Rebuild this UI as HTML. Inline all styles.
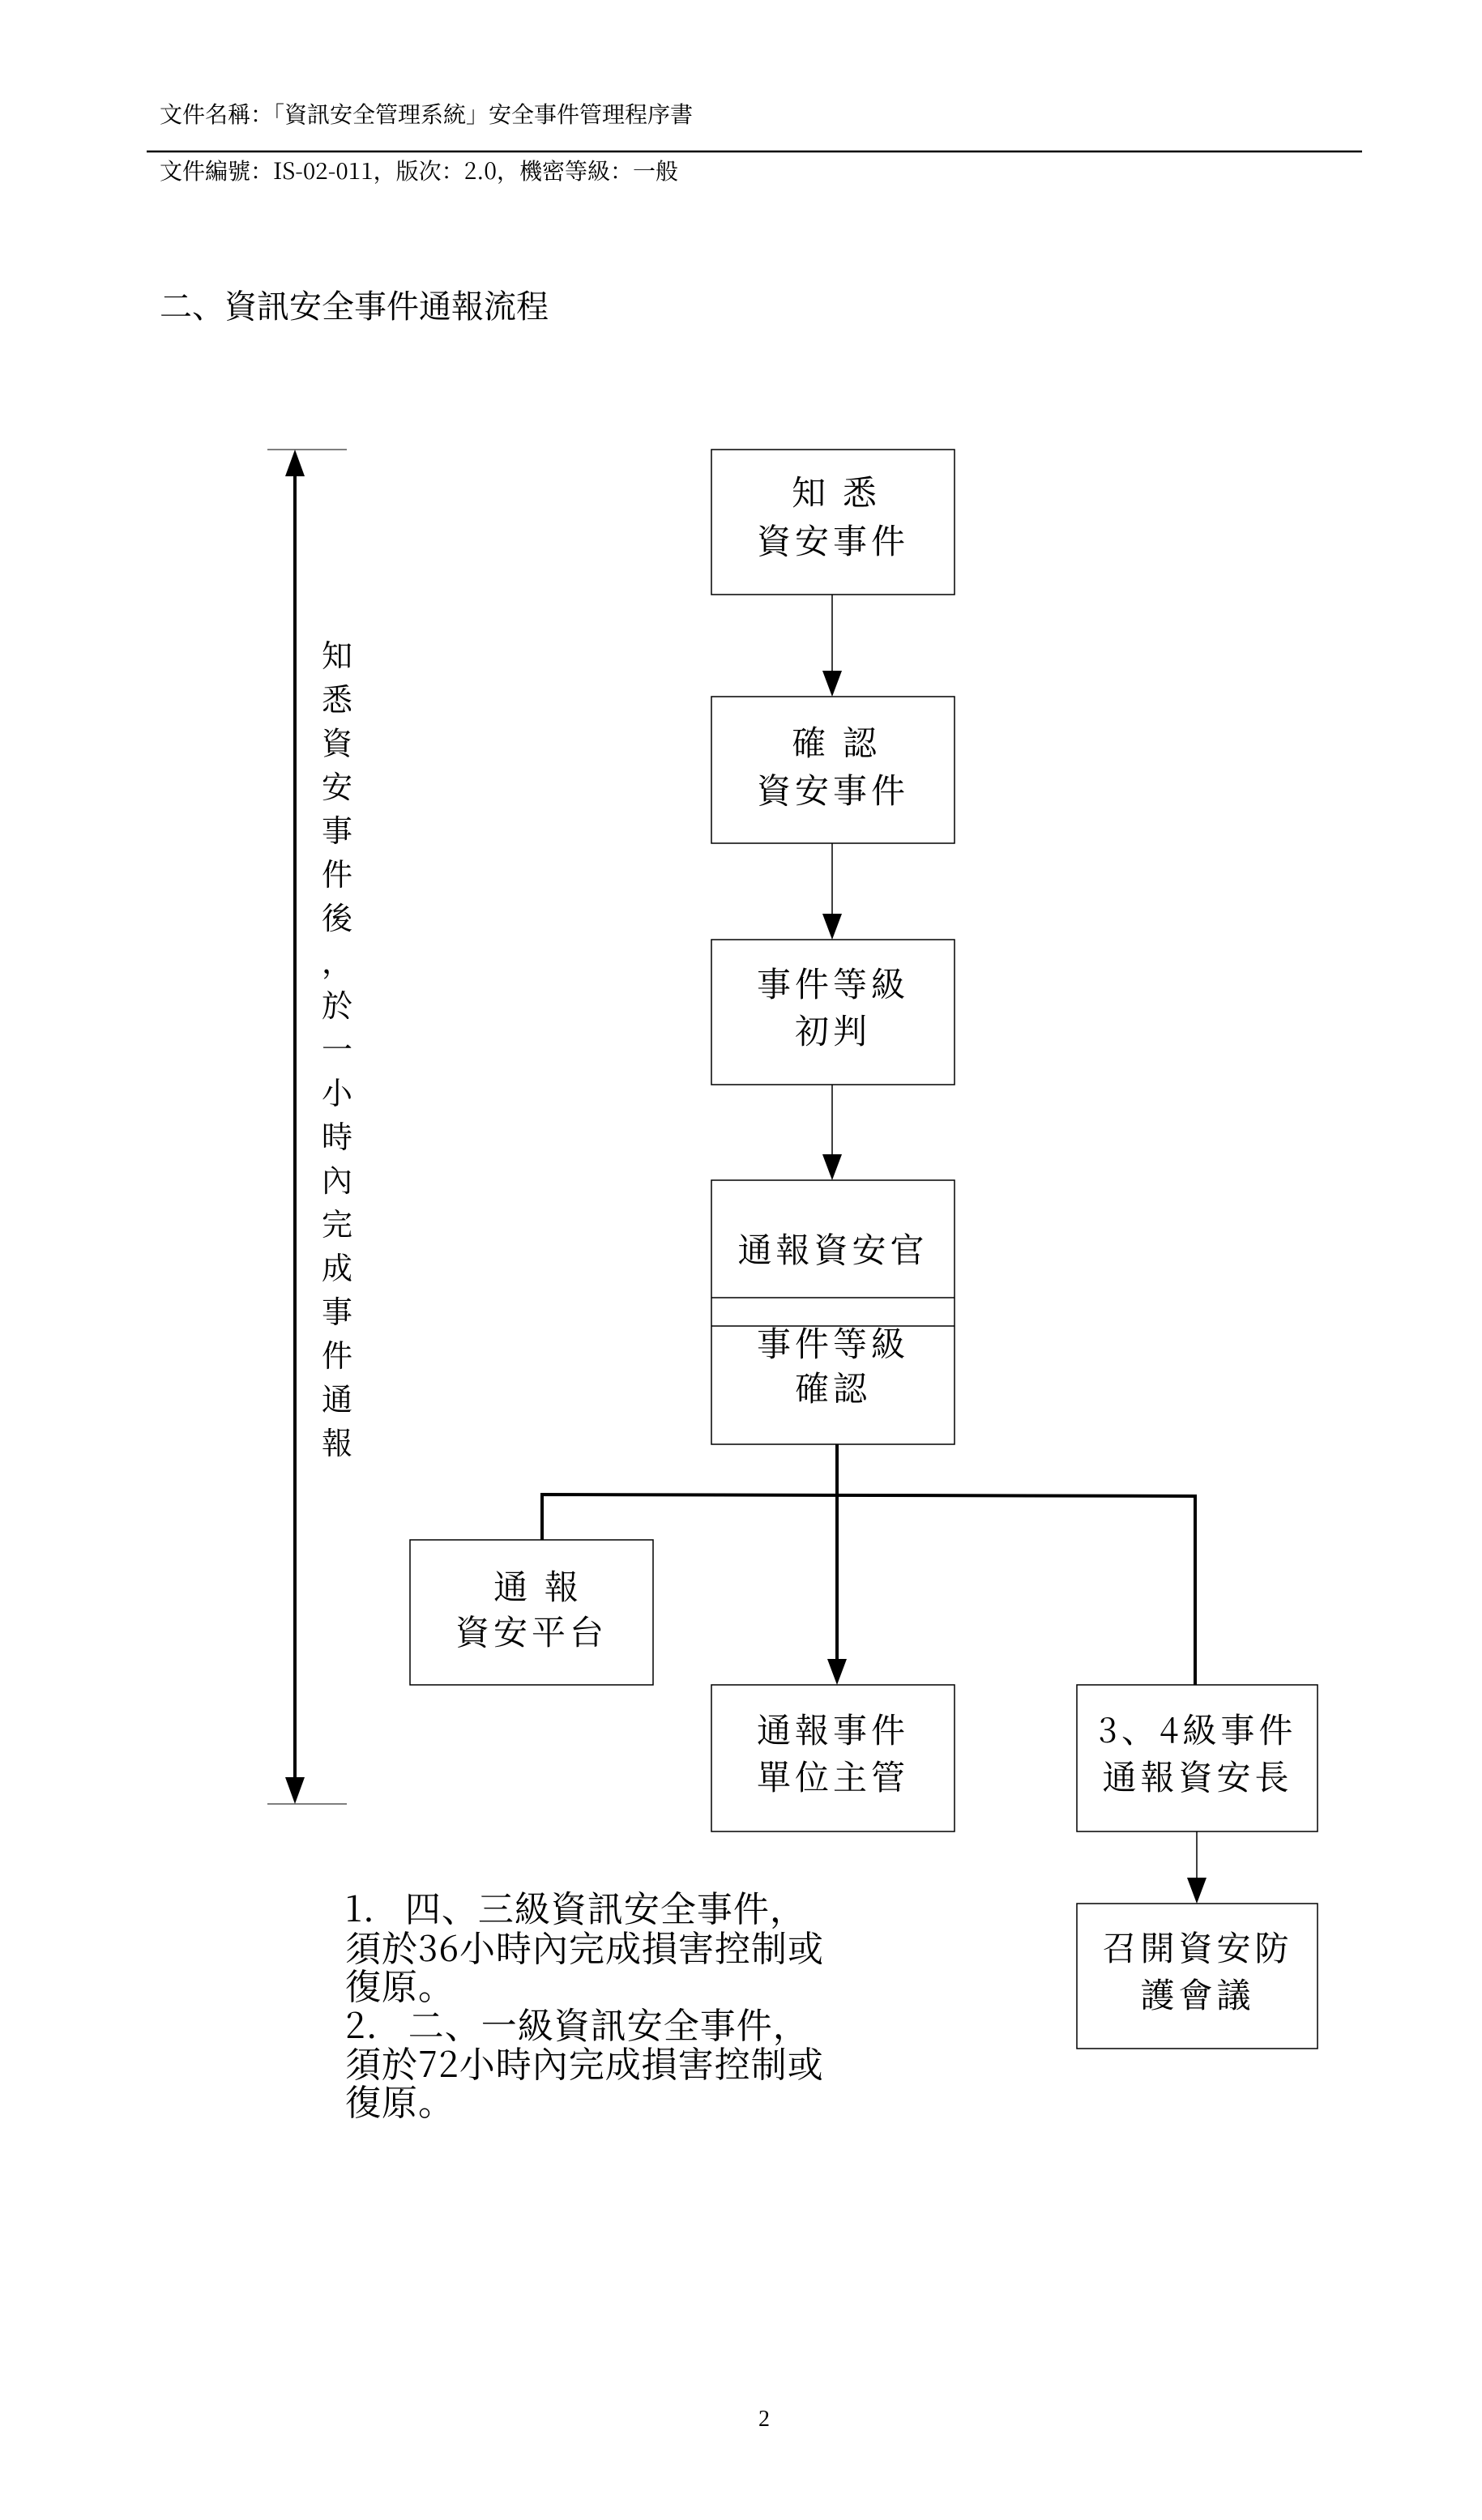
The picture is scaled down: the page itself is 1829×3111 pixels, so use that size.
<!DOCTYPE html>
<html><head><meta charset="utf-8"><style>
html,body{margin:0;padding:0;background:#fff;}
svg{display:block;}
.h{font-family:"Noto Serif CJK SC","Liberation Serif",serif;font-size:28px;}
.b{font-family:"Noto Serif CJK SC","Liberation Serif",serif;font-size:42px;letter-spacing:5px;}
.v{font-family:"Noto Serif CJK SC","Liberation Serif",serif;font-size:38px;}
.n{font-family:"Noto Serif CJK SC","Liberation Serif",serif;font-size:44px;letter-spacing:1px;}
</style></head><body>
<svg width="1829" height="3111" viewBox="0 0 1829 3111" xmlns="http://www.w3.org/2000/svg">
<text class="h" x="197" y="151">文件名稱：「資訊安全管理系統」安全事件管理程序書</text>
<line x1="181" y1="187" x2="1681" y2="187" stroke="#000" stroke-width="2.5"/>
<text class="h" x="197" y="221">文件編號：IS-02-011，版次：2.0，機密等級：一般</text>
<text x="197" y="392" style="font-family:'Noto Serif CJK SC','Liberation Serif',serif;font-size:40px;">二、資訊安全事件通報流程</text>

<line x1="330" y1="555" x2="428" y2="555" stroke="#555" stroke-width="1.5"/>
<line x1="330" y1="2227" x2="428" y2="2227" stroke="#555" stroke-width="1.5"/>
<path d="M364 555 L352 588 L376 588 Z" fill="#000"/>
<path d="M364 2227 L352 2194 L376 2194 Z" fill="#000"/>
<line x1="364" y1="585" x2="364" y2="2197" stroke="#000" stroke-width="4"/>
<g class="v" text-anchor="middle">
<text x="416" y="823">知</text><text x="416" y="877">悉</text><text x="416" y="931">資</text><text x="416" y="985">安</text><text x="416" y="1039">事</text><text x="416" y="1093">件</text><text x="416" y="1147">後</text><text x="416" y="1201">，</text><text x="416" y="1255">於</text><text x="416" y="1309">一</text><text x="416" y="1363">小</text><text x="416" y="1417">時</text><text x="416" y="1471">內</text><text x="416" y="1525">完</text><text x="416" y="1579">成</text><text x="416" y="1633">事</text><text x="416" y="1687">件</text><text x="416" y="1741">通</text><text x="416" y="1795">報</text>
</g>

<g fill="none" stroke="#000" stroke-width="1.5">
<rect x="878" y="555" width="300" height="179"/>
<rect x="878" y="860" width="300" height="181"/>
<rect x="878" y="1160" width="300" height="179"/>
<rect x="878" y="1457" width="300" height="326"/>
<line x1="878" y1="1602" x2="1178" y2="1602"/>
<line x1="878" y1="1637" x2="1178" y2="1637"/>
<rect x="506" y="1901" width="300" height="179"/>
<rect x="878" y="2080" width="300" height="181"/>
<rect x="1329" y="2080" width="297" height="181"/>
<rect x="1329" y="2350" width="297" height="179"/>
</g>

<g stroke="#000" stroke-width="1.5">
<line x1="1027" y1="734" x2="1027" y2="830"/>
<line x1="1027" y1="1041" x2="1027" y2="1130"/>
<line x1="1027" y1="1339" x2="1027" y2="1427"/>
<line x1="1477" y1="2261" x2="1477" y2="2320"/>
</g>
<g fill="#000">
<path d="M1015 828 L1039 828 L1027 860 Z"/>
<path d="M1015 1128 L1039 1128 L1027 1160 Z"/>
<path d="M1015 1425 L1039 1425 L1027 1457 Z"/>
<path d="M1465 2318 L1489 2318 L1477 2350 Z"/>
<path d="M1021 2048 L1045 2048 L1033 2080 Z"/>
</g>
<g stroke="#000" stroke-width="4" fill="none">
<line x1="1033" y1="1783" x2="1033" y2="2050"/>
<polyline points="669,1901 669,1845 1475,1847 1475,2080"/>
</g>

<g class="b" text-anchor="middle">
<text x="1032" y="623">知 悉</text><text x="1028" y="683">資安事件</text>
<text x="1032" y="932">確 認</text><text x="1028" y="991">資安事件</text>
<text x="1028" y="1230">事件等級</text><text x="1028" y="1288">初判</text>
<text x="1028" y="1558">通報資安官</text>
<text x="1028" y="1674">事件等級</text><text x="1028" y="1729">確認</text>
<text x="664" y="1974">通 報</text><text x="656" y="2030">資安平台</text>
<text x="1028" y="2151">通報事件</text><text x="1028" y="2209">單位主管</text>
<text x="1478" y="2151">3、4級事件</text><text x="1478" y="2209">通報資安長</text>
<text x="1478" y="2420">召開資安防</text><text x="1478" y="2478">護會議</text>
</g>

<g class="n">
<text x="426" y="2372">1.&#160;&#160; 四、三級資訊安全事件，</text>
<text x="426" y="2421">須於36小時內完成損害控制或</text>
<text x="426" y="2468">復原。</text>
<text x="426" y="2516">2.&#160;&#160; 二、一級資訊安全事件，</text>
<text x="426" y="2564">須於72小時內完成損害控制或</text>
<text x="426" y="2611">復原。</text>
</g>

<text x="943" y="2995" text-anchor="middle" style="font-family:'Liberation Serif',serif;font-size:28px;">2</text>
</svg>
</body></html>
